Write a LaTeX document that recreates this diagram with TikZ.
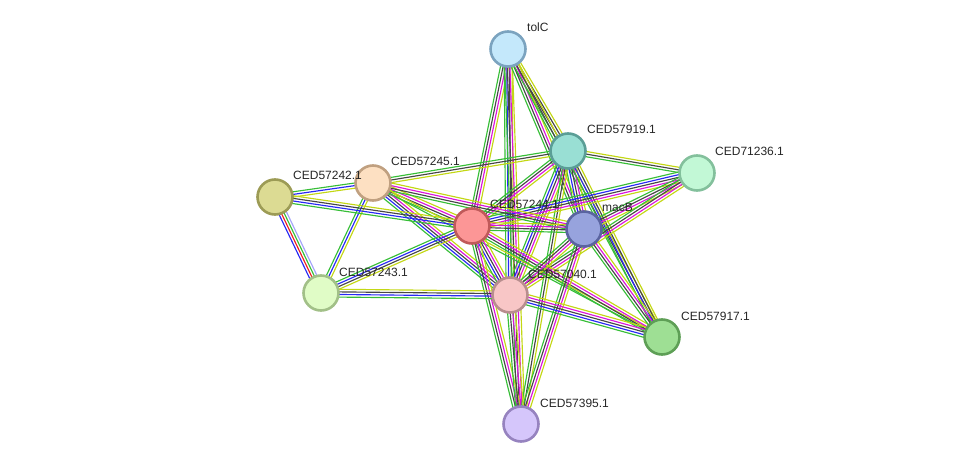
\documentclass[tikz,border=0pt]{standalone}
\usepackage{fontspec}
\setmainfont{Liberation Sans}
\usetikzlibrary{calc,backgrounds}
\definecolor{gn}{RGB}{55,190,55}
\definecolor{bl}{RGB}{40,40,245}
\definecolor{bk}{RGB}{70,70,70}
\definecolor{mg}{RGB}{220,20,220}
\definecolor{yl}{RGB}{195,215,20}
\definecolor{rd}{RGB}{240,30,30}
\definecolor{lb}{RGB}{165,165,250}
\tikzset{
  prot/.style={circle, minimum size=35pt, inner sep=0pt, line width=2.6pt},
  lab/.style={anchor=base west, font=\fontsize{12}{14}\selectfont, inner sep=0pt, text=black!85},
  eline/.style={line width=1.15pt}
}
\newcommand{\strbundle}[3]{%
  \foreach \col [count=\i] in {#3} {\xdef\nbund{\i}}%
  \foreach \col [count=\i] in {#3} {%
    \pgfmathsetmacro\off{(\i-(\nbund+1)/2)*2.6}%
    \draw[eline, color=\col] ($(#1)!\off pt!90:(#2)$) -- ($(#2)!\off pt!-90:(#1)$);
  }}
\begin{document}
\begin{tikzpicture}[x=1pt, y=-1pt]
\useasboundingbox (0,0) rectangle (976,470);
% nodes
\node[prot, fill={rgb,255:red,196;green,232;blue,251}, draw={rgb,255:red,123;green,163;blue,191}] (tolC) at (508,49) {};
\node[prot, fill={rgb,255:red,153;green,223;blue,212}, draw={rgb,255:red,90;green,158;blue,150}] (n919) at (568,151) {};
\node[prot, fill={rgb,255:red,194;green,248;blue,214}, draw={rgb,255:red,131;green,192;blue,156}] (n236) at (697,173) {};
\node[prot, fill={rgb,255:red,253;green,224;blue,194}, draw={rgb,255:red,192;green,160;blue,128}] (n245) at (373,183) {};
\node[prot, fill={rgb,255:red,220;green,219;blue,147}, draw={rgb,255:red,156;green,155;blue,85}] (n242) at (275,197) {};
\node[prot, fill={rgb,255:red,252;green,150;blue,150}, draw={rgb,255:red,192;green,90;blue,90}] (n244) at (472,226) {};
\node[prot, fill={rgb,255:red,151;green,163;blue,221}, draw={rgb,255:red,90;green,100;blue,160}] (macB) at (584,229) {};
\node[prot, fill={rgb,255:red,224;green,252;blue,198}, draw={rgb,255:red,162;green,192;blue,136}] (n243) at (321,293) {};
\node[prot, fill={rgb,255:red,248;green,198;blue,198}, draw={rgb,255:red,184;green,142;blue,142}] (n040) at (510,295) {};
\node[prot, fill={rgb,255:red,158;green,223;blue,148}, draw={rgb,255:red,94;green,159;blue,86}] (n917) at (662,337) {};
\node[prot, fill={rgb,255:red,213;green,198;blue,251}, draw={rgb,255:red,150;green,131;blue,191}] (n395) at (521,424) {};
% edges
\begin{scope}[on background layer]
\strbundle{tolC}{n919}{gn,bk,bk,yl}
\strbundle{tolC}{n244}{gn,bk,mg,yl}
\strbundle{tolC}{n040}{gn,bl,bk,yl}
\strbundle{tolC}{n395}{gn,bk,mg,yl}
\strbundle{tolC}{macB}{gn,bk,mg,yl}
\strbundle{tolC}{n917}{gn,bk,yl}
\strbundle{n919}{n236}{gn,bk,yl}
\strbundle{n919}{n245}{gn,bk,yl}
\strbundle{n919}{n244}{gn,bk,mg,yl}
\strbundle{n919}{macB}{gn,bl,bk,mg,yl}
\strbundle{n919}{n040}{gn,bl,bk,mg,yl}
\strbundle{n919}{n917}{gn,bl,bk,yl}
\strbundle{n919}{n395}{gn,bk,yl}
\strbundle{n236}{n244}{gn,bl,bk,mg,yl}
\strbundle{n236}{macB}{gn,bk,mg,yl}
\strbundle{n236}{n040}{gn,bk,mg,yl}
\strbundle{n245}{n242}{gn,bl,yl}
\strbundle{n245}{n244}{gn,bk,mg,yl}
\strbundle{n245}{macB}{gn,bk,mg,yl}
\strbundle{n245}{n243}{gn,bl,yl}
\strbundle{n245}{n040}{gn,bl,bk,mg,yl}
\strbundle{n245}{n917}{gn,yl}
\strbundle{n242}{n244}{gn,bl,bk,yl}
\strbundle{n242}{n243}{bl,rd,gn,lb}
\strbundle{n244}{macB}{gn,bk,mg,yl}
\strbundle{n244}{n243}{gn,bl,bk,yl}
\strbundle{n244}{n040}{gn,bl,bk,mg,yl}
\strbundle{n244}{n917}{gn,bk,mg,yl}
\strbundle{n244}{n395}{gn,bk,mg,yl}
\strbundle{macB}{n040}{gn,bk,mg,yl}
\strbundle{macB}{n917}{gn,bk,mg,yl}
\strbundle{macB}{n395}{gn,bk,mg,yl}
\strbundle{n243}{n040}{gn,bl,bk,yl}
\strbundle{n040}{n917}{gn,bl,bk,mg,yl}
\strbundle{n040}{n395}{gn,bk,mg,yl}
\end{scope}
% labels
\node[lab] (l1) at (527,32) {tolC};
\node[lab] (l2) at (587,134) {CED57919.1};
\node[lab] (l3) at (715,156) {CED71236.1};
\node[lab] (l4) at (391,166) {CED57245.1};
\node[lab] (l5) at (293,180) {CED57242.1};
\node[lab] (l6) at (490,209) {CED57244.1};
\node[lab] (l7) at (602,212) {macB};
\node[lab] (l8) at (339,276) {CED57243.1};
\node[lab] (l9) at (528,278) {CED57040.1};
\node[lab] (l10) at (681,320) {CED57917.1};
\node[lab] (l11) at (540,407) {CED57395.1};
\end{tikzpicture}
\end{document}
